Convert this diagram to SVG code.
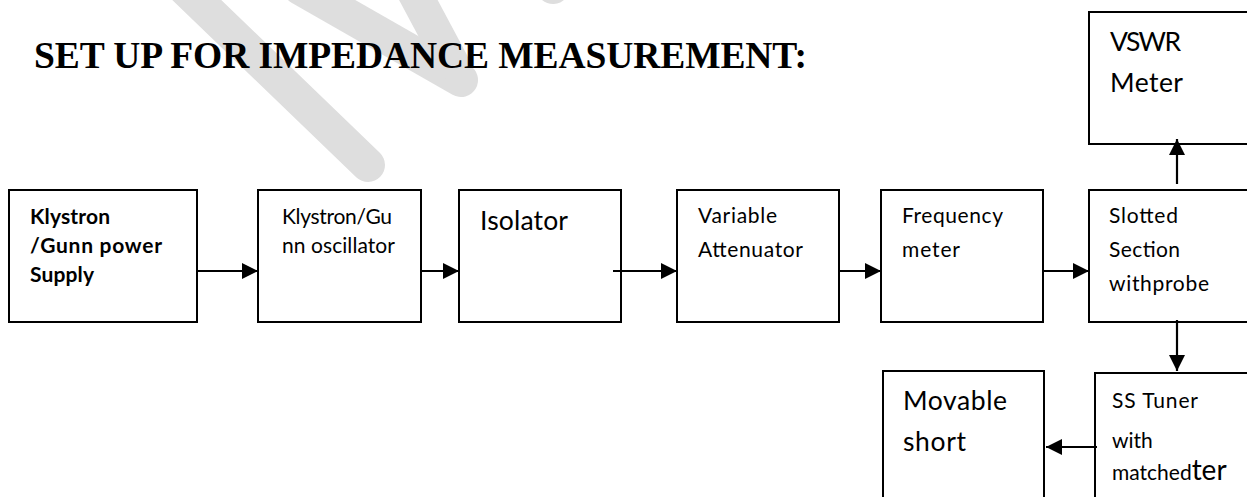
<svg xmlns="http://www.w3.org/2000/svg" width="1247" height="497" viewBox="0 0 1247 497">
<style>
.wm{stroke:#dedede;stroke-width:34;stroke-linecap:round;fill:none}
.box{fill:none;stroke:#000;stroke-width:2}
.con{stroke:#000;stroke-width:2.2;fill:none}
.t{font-family:Lato,"Open Sans",sans-serif;font-size:21px;fill:#000}
.b{font-weight:bold}
.L{font-size:26.5px}
.title{font-family:"Liberation Serif","Times New Roman",serif;font-weight:bold;font-size:37.5px;fill:#000}
</style>
<defs>
<marker id="ah" markerUnits="userSpaceOnUse" markerWidth="17" markerHeight="17" refX="16" refY="8" orient="auto">
<path d="M0,0 L16,8 L0,16 Z" fill="#000"/>
</marker>
</defs>
<rect width="1247" height="497" fill="#fff"/>
<g id="watermark">
<line class="wm" x1="176" y1="-20" x2="368" y2="165"/>
<line class="wm" x1="300" y1="-12" x2="461" y2="80"/>
<line class="wm" x1="405" y1="-25" x2="452" y2="63"/>
<line class="wm" x1="545" y1="-30" x2="553" y2="-13"/>
</g>
<text class="title" x="34" y="68" textLength="773">SET UP FOR IMPEDANCE MEASUREMENT:</text>
<g id="connectors">
<line class="con" x1="197" y1="271" x2="258" y2="271" marker-end="url(#ah)"/>
<line class="con" x1="421" y1="271" x2="459" y2="271" marker-end="url(#ah)"/>
<line class="con" x1="613" y1="271" x2="677" y2="271" marker-end="url(#ah)"/>
<line class="con" x1="839" y1="271" x2="881" y2="271" marker-end="url(#ah)"/>
<line class="con" x1="1043" y1="271" x2="1089" y2="271" marker-end="url(#ah)"/>
<line class="con" x1="1177" y1="184" x2="1177" y2="139" marker-end="url(#ah)"/>
<line class="con" x1="1177" y1="320" x2="1177" y2="371" marker-end="url(#ah)"/>
<line class="con" x1="1097" y1="447" x2="1046" y2="447" marker-end="url(#ah)"/>
</g>
<g id="power-supply">
<rect class="box" x="9" y="190" width="188" height="132"/>
<text class="t b" x="30" y="224" textLength="80">Klystron</text>
<text class="t b" x="30" y="253" textLength="132">/Gunn power</text>
<text class="t b" x="30" y="282" textLength="64">Supply</text>
</g>
<g id="oscillator">
<rect class="box" x="258" y="190" width="163" height="132"/>
<text class="t" x="282" y="224" textLength="110">Klystron/Gu</text>
<text class="t" x="282" y="253" textLength="113">nn oscillator</text>
</g>
<g id="isolator">
<rect class="box" x="459" y="190" width="162" height="132"/>
<text class="t L" x="480" y="230" textLength="88">Isolator</text>
</g>
<g id="attenuator">
<rect class="box" x="677" y="190" width="162" height="132"/>
<text class="t" x="698" y="223" textLength="79">Variable</text>
<text class="t" x="698" y="257" textLength="105">Attenuator</text>
</g>
<g id="frequency-meter">
<rect class="box" x="881" y="190" width="162" height="132"/>
<text class="t" x="902" y="223" textLength="101">Frequency</text>
<text class="t" x="902" y="257" textLength="58">meter</text>
</g>
<g id="slotted-section">
<rect class="box" x="1089" y="190" width="180" height="132"/>
<text class="t" x="1109" y="223" textLength="69">Slotted</text>
<text class="t" x="1109" y="257" textLength="71">Section</text>
<text class="t" x="1109" y="291" textLength="100">withprobe</text>
</g>
<g id="vswr-meter">
<rect class="box" x="1089" y="12" width="180" height="132"/>
<text class="t L" x="1110" y="51" textLength="71">VSWR</text>
<text class="t L" x="1110" y="92" textLength="73">Meter</text>
</g>
<g id="ss-tuner">
<rect class="box" x="1095" y="373" width="180" height="140"/>
<text class="t" x="1112" y="408" textLength="86">SS Tuner</text>
<text class="t" x="1112" y="448">with</text>
<text class="t" x="1112" y="480">matched<tspan style="font-size:28px">ter</tspan></text>
</g>
<g id="movable-short">
<rect class="box" x="883" y="371" width="161" height="140"/>
<text class="t L" x="903" y="410" textLength="104">Movable</text>
<text class="t L" x="903" y="451" textLength="63">short</text>
</g>
</svg>
